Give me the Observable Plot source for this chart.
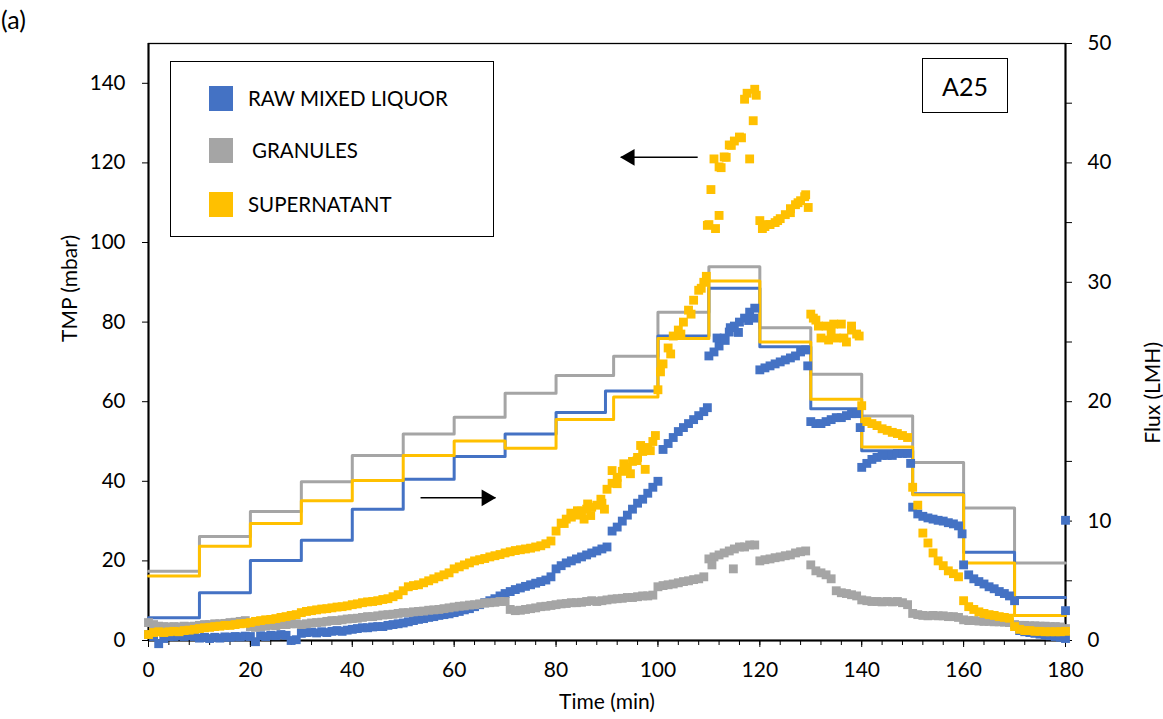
<!DOCTYPE html>
<html>
<head>
<meta charset="utf-8">
<script src="https://cdn.jsdelivr.net/npm/d3@7"></script>
<script src="https://cdn.jsdelivr.net/npm/@observablehq/plot@0.6"></script>
<style>
  html, body { margin: 0; padding: 0; background: #fff; }
  #wrap { position: relative; width: 1163px; height: 719px; font-family: Lato, "Open Sans", sans-serif; color: #000; }
  #panel { position: absolute; left: 1px; top: 4px; font-size: 25px; line-height: 30px; }
  #legend { position: absolute; left: 170px; top: 61px; width: 324px; height: 176px; box-sizing: border-box; border: 1.4px solid #000; background: #fff; }
  .lg-sw { position: absolute; width: 24px; height: 25px; }
  .lg-tx { position: absolute; font-size: 20.5px; line-height: 24px; white-space: nowrap; }
  #tag { position: absolute; left: 922px; top: 58px; width: 86px; height: 55px; box-sizing: border-box; border: 1.6px solid #000; background: #fff; font-size: 25px; display: flex; align-items: center; justify-content: center; }
</style>
</head>
<body>
<div id="wrap">
  <div id="chart"></div>
  <div id="panel">(a)</div>
  <div id="legend"></div>
  <div id="tag">A25</div>
</div>
<script>
// ---------------- data ----------------
const seriesNames = ["RAW MIXED LIQUOR", "GRANULES", "SUPERNATANT"];
const seriesColors = ["#4472C4", "#A5A5A5", "#FFC000"];

// TMP (mbar) sampled once per minute, t = 0 … 180 min
const minutes = d3.range(0, 181);
const rawTMP = [
  1.5, 1.0, -0.8, 0.5, 1.0, 1.0, 1.2, 1.0, 1.2, 1.0,
  0.6, 0.8, 0.5, 0.8, 0.6, 0.9, 0.8, 1.0, 0.9, 1.1,
  1.0, -0.3, 1.2, 1.0, 1.3, 1.2, 1.5, 1.3, 0.0, 0.2,
  1.8, 2.0, 2.1, 1.9, 2.2, 2.0, 2.3, 2.5, 2.3, 2.6,
  2.8, 3.0, 3.2, 3.2, 3.4, 3.5, 3.5, 3.8, 4.0, 4.2,
  4.4, 4.7, 5.0, 5.3, 5.5, 5.8, 6.0, 6.3, 6.5, 6.7,
  7.0, 7.3, 7.7, 8.0, 8.5, 9.0, 9.5, 10.0, 10.5, 11.2,
  11.8, 12.3, 12.8, 13.2, 13.6, 14.0, 14.4, 14.8, 15.2, 16.0,
  18.0, 18.8, 19.5, 20.0, 20.5, 21.0, 21.5, 22.0, 22.5, 23.0,
  23.5, 27.5, 28.5, 30.0, 31.5, 33.0, 34.5, 35.5, 37.0, 38.5,
  40.0, 48.0, 49.5, 51.0, 52.5, 53.5, 54.5, 55.5, 56.5, 57.5,
  71.5, 72.5, 74.0, 76.0, 77.5, 79.0, 80.0, 81.0, 82.5, 83.5,
  68.0, 68.5, 69.0, 69.5, 70.0, 70.5, 71.0, 71.5, 72.5, 73.0,
  55.0, 54.5, 54.5, 55.0, 55.5, 56.0, 56.0, 56.5, 57.0, 57.0,
  43.5, 44.5, 45.5, 46.0, 46.5, 46.5, 46.5, 47.0, 47.0, 47.0,
  33.5, 31.8, 31.2, 30.8, 30.5, 30.2, 30.0, 29.6, 29.3, 28.8,
  19.0, 16.5, 15.5, 14.8, 14.2, 13.5, 13.0, 12.3, 11.8, 11.2,
  10.0, 2.5, 2.2, 2.0, 1.8, 1.6, 1.4, 1.2, 1.0, 0.8,
  0.5
];
const rawExtra = [[109.7, 58.5], [111.6, 76.0], [113.2, 75.4], [114.2, 78.6], [115.8, 77.4], [117.8, 80.4], [118.8, 81.0], [129.4, 69.0], [139.7, 53.5], [149.6, 44.5], [159.7, 26.8], [180, 7.5], [180, 30.2]];

const granTMP = [
  4.5, 4.0, 3.6, 3.5, 3.4, 3.5, 3.4, 3.6, 3.5, 3.6,
  3.8, 4.0, 4.0, 4.2, 4.2, 4.3, 4.5, 4.6, 4.8, 5.0,
  3.5, 3.3, 3.5, 3.6, 3.8, 3.7, 4.0, 4.0, 4.2, 4.2,
  4.0, 4.2, 4.4, 4.5, 4.6, 4.8, 5.0, 5.0, 5.2, 5.4,
  5.5, 5.6, 5.8, 6.0, 6.0, 6.2, 6.4, 6.5, 6.6, 6.8,
  7.0, 7.0, 7.2, 7.3, 7.4, 7.6, 7.7, 7.8, 8.0, 8.2,
  8.4, 8.6, 8.7, 8.9, 9.0, 9.2, 9.4, 9.5, 9.6, 9.8,
  9.8, 7.8, 7.5, 7.6, 7.8, 8.0, 8.2, 8.5, 8.6, 8.8,
  9.0, 9.2, 9.3, 9.5, 9.5, 9.6, 9.8, 10.0, 9.8, 10.0,
  10.2, 10.4, 10.5, 10.6, 10.8, 10.8, 11.0, 11.2, 11.2, 11.4,
  13.5, 13.8, 14.0, 14.2, 14.5, 14.8, 15.0, 15.3, 15.5, 16.0,
  20.5, 21.0, 21.5, 22.0, 22.5, 23.0, 23.5, 23.5, 24.0, 24.0,
  20.0, 20.3, 20.5, 20.8, 21.0, 21.3, 21.5, 22.0, 22.3, 22.5,
  19.0, 17.5, 17.0, 16.5, 15.5, 12.5, 12.0, 11.8, 11.5, 11.2,
  10.2, 10.0, 9.8, 9.8, 9.7, 9.8, 9.7, 9.8, 9.5, 9.0,
  6.8, 6.5, 6.3, 6.2, 6.3, 6.2, 6.2, 6.0, 6.0, 5.8,
  5.2, 5.0, 5.0, 4.9, 4.8, 4.8, 4.7, 4.7, 4.6, 4.5,
  4.0, 3.8, 3.8, 3.7, 3.7, 3.6, 3.6, 3.5, 3.5, 3.4,
  3.0
];
const granExtra = [[114.8, 18.0], [110.6, 19.0]];

const supTMP = [
  1.5, 2.0, 2.2, 2.0, 2.2, 2.3, 2.2, 2.5, 2.6, 2.8,
  3.0, 3.2, 3.3, 3.5, 3.6, 3.8, 3.8, 4.0, 4.2, 4.3,
  4.5, 4.8, 5.0, 5.2, 5.3, 5.5, 5.8, 6.0, 6.3, 6.5,
  7.0, 7.3, 7.5, 7.7, 7.9, 8.0, 8.2, 8.4, 8.5, 8.7,
  9.0, 9.2, 9.5, 9.7, 9.8, 10.0, 10.3, 10.5, 11.0, 11.5,
  12.5, 13.5, 13.8, 14.0, 14.5, 15.0, 15.5, 16.0, 16.5, 17.0,
  18.0, 18.5, 19.0, 19.5, 20.0, 20.3, 20.6, 21.0, 21.3, 21.6,
  22.0, 22.3, 22.6, 22.8, 23.0, 23.2, 23.5, 23.8, 24.3, 25.0,
  27.5, 29.5, 30.5, 31.0, 31.5, 32.5, 33.0, 33.5, 34.0, 34.5,
  38.0, 39.5, 41.0, 42.5, 43.5, 45.0, 46.0, 47.5, 48.5, 50.0,
  63.0, 69.5, 73.5, 76.5, 78.0, 80.0, 83.0, 85.5, 88.0, 90.0,
  104.5, 121.0, 119.0, 121.5, 124.5, 125.5, 126.5, 136.0, 121.0, 138.5,
  105.5, 104.0, 104.5, 105.0, 106.0, 107.0, 108.5, 109.5, 110.5, 112.0,
  82.0, 80.5, 76.0, 79.0, 77.5, 76.0, 79.5, 75.0, 78.0, 77.0,
  59.0, 55.0, 54.5, 54.0, 53.2, 52.8, 52.3, 52.0, 51.5, 51.0,
  38.5, 34.0, 27.0, 24.5, 22.0, 20.0, 18.8, 17.5, 16.8, 16.0,
  10.0, 8.5, 7.8, 7.2, 6.8, 6.5, 6.3, 6.0, 5.8, 5.6,
  3.5, 2.8, 2.5, 2.5, 2.3, 2.3, 2.2, 2.2, 2.2, 2.2,
  2.3
];
const supExtra = [
  [81.6, 29.4], [82.9, 32.0], [84.2, 32.6], [85.5, 30.5], [86.2, 34.3], [86.8, 31.4], [88.8, 35.5], [89.5, 33.0],
  [91.0, 42.7], [92.0, 39.4], [93.3, 44.4], [94.6, 41.9], [95.9, 45.2], [96.6, 49.0], [97.5, 43.0], [98.5, 47.7], [99.5, 51.5],
  [100.5, 67.5], [102.5, 72.0], [104.5, 77.0], [106.5, 82.0], [108.5, 88.5], [109.5, 91.5],
  [109.7, 104.3], [110.4, 113.3], [111.3, 103.5], [112.0, 106.8], [112.4, 118.8], [113.4, 121.4], [114.4, 124.4],
  [116.4, 126.3], [117.5, 137.5], [118.7, 130.6], [119.3, 137.0],
  [120.5, 103.5], [121.5, 104.5], [123.5, 105.5], [126.0, 107.5], [127.5, 110.0], [128.8, 111.5], [129.5, 108.8],
  [130.5, 81.0], [131.5, 79.0], [133.5, 75.5], [134.5, 79.5], [136.5, 76.0], [138.0, 79.0], [139.5, 76.5]
];

// Flux (LMH) step programme: value holds from each time to the next
const rawStepTime  = [0, 10, 20, 30, 40, 50, 60, 70, 80, 89.7, 100, 110, 120, 130, 140, 150, 160, 170, 180];
const rawStepFlux  = [1.9, 4.0, 6.7, 8.4, 11.0, 13.5, 15.4, 17.3, 19.1, 20.9, 25.5, 29.5, 24.6, 19.4, 15.9, 12.3, 7.4, 3.6, 3.6];
const granStepTime = [0, 10, 20, 30, 40, 50, 60, 70, 80, 91.3, 100, 110, 120, 130, 140, 150, 160, 170, 180];
const granStepFlux = [5.8, 8.7, 10.8, 13.3, 15.5, 17.3, 18.7, 20.7, 22.2, 23.8, 27.5, 31.3, 26.2, 22.3, 18.8, 14.9, 11.1, 6.5, 6.5];
const supStepTime  = [0, 10, 20, 30, 40, 50, 60, 70, 80, 91.3, 100, 110, 120, 130, 140, 150, 160, 170, 180];
const supStepFlux  = [5.4, 7.9, 9.8, 11.7, 13.4, 15.5, 16.7, 16.1, 18.5, 20.4, 25.3, 30.1, 25.0, 20.2, 16.2, 12.2, 6.5, 2.1, 2.1];

// arrows (tail time, head time, level in TMP units)
const arrowNotes = [
  {from: 107.8, to: 92.7, level: 121.4},
  {from: 53.4, to: 68.1, level: 35.85}
];

const xTicksMajor = [0, 20, 40, 60, 80, 100, 120, 140, 160, 180];
const yTicksLeft = [0, 20, 40, 60, 80, 100, 120, 140];
const yTicksRight = [0, 10, 20, 30, 40, 50];

// ---------------- build tables ----------------
const TMP_MAX = 150, FLUX_MAX = 50, K = TMP_MAX / FLUX_MAX; // secondary axis factor

function scatterRows(vals, extra, s) {
  return vals.map((v, i) => ({t: minutes[i], v, s}))
    .concat(extra.map(([t, v]) => ({t, v, s})));
}
const scatter = [
  ...scatterRows(rawTMP, rawExtra, seriesNames[0]),
  ...scatterRows(granTMP, granExtra, seriesNames[1]),
  ...scatterRows(supTMP, supExtra, seriesNames[2])
];
function stepRows(ts, fs, s) { return ts.map((t, i) => ({t, flux: fs[i], s})); }
const steps = [
  ...stepRows(granStepTime, granStepFlux, seriesNames[1]),
  ...stepRows(rawStepTime, rawStepFlux, seriesNames[0]),
  ...stepRows(supStepTime, supStepFlux, seriesNames[2])
];

const chart = Plot.plot({
  width: 1163,
  height: 719,
  marginLeft: 148,
  marginRight: 98,
  marginTop: 43,
  marginBottom: 79,
  style: {fontFamily: "Lato, sans-serif", fontSize: "20.5px", color: "#000", background: "#fff", overflow: "visible"},
  x: {domain: [0, 180]},
  y: {domain: [0, TMP_MAX]},
  color: {domain: seriesNames, range: seriesColors},
  marks: [
    Plot.axisX({ticks: d3.range(0, 181, 4), tickSize: 5, tickFormat: () => "", label: null}),
    Plot.axisX({ticks: xTicksMajor, tickSize: 7, tickPadding: 15, fontSize: 21, label: null}),
    Plot.axisY({ticks: yTicksLeft, tickSize: 6, tickPadding: 17, label: null}),
    Plot.axisY({anchor: "right", ticks: yTicksRight.map(d => d * K), tickFormat: d => d / K, tickSize: 6, tickPadding: 16, label: null}),
    Plot.axisY({anchor: "right", ticks: [5, 15, 25, 35, 45].map(d => d * K), tickFormat: () => "", tickSize: 6, label: null}),
    Plot.frame({stroke: "#000", strokeWidth: 1.3}),
    Plot.ruleY([0], {stroke: "#000", strokeWidth: 2}),
    Plot.ruleX([0, 180], {stroke: "#000", strokeWidth: 2}),
    Plot.line(steps, {x: "t", y: d => d.flux * K, z: "s", stroke: "s", curve: "step-after", strokeWidth: 3}),
    Plot.dot(scatter, {x: "t", y: "v", fill: "s", symbol: "square", r: 5}),
    Plot.link(arrowNotes, {x1: "from", x2: "to", y1: "level", y2: "level", stroke: "#000", strokeWidth: 1.5}),
    Plot.dot(arrowNotes.filter(d => d.to < d.from), {x: "to", y: "level", symbol: "triangle", r: 6.2, fill: "#000", rotate: -90, dx: 9}),
    Plot.dot(arrowNotes.filter(d => d.to > d.from), {x: "to", y: "level", symbol: "triangle", r: 6.2, fill: "#000", rotate: 90, dx: -9}),
    Plot.text(["TMP (mbar)"], {frameAnchor: "left", dx: -78, rotate: -90, fontSize: 21}),
    Plot.text(["Flux (LMH)"], {frameAnchor: "right", dx: 88, rotate: -90, fontSize: 21}),
    Plot.text(["Time (min)"], {frameAnchor: "bottom", dy: 68, fontSize: 21})
  ]
});
document.getElementById("chart").appendChild(chart);

// legend
const legend = document.getElementById("legend");
const rowsY = [36, 88, 142];
const textX = [77, 81, 77];
seriesNames.forEach((name, i) => {
  const sw = document.createElement("div");
  sw.className = "lg-sw";
  sw.style.left = "38px";
  sw.style.top = (rowsY[i] - 12.5) + "px";
  sw.style.background = seriesColors[i];
  legend.appendChild(sw);
  const tx = document.createElement("div");
  tx.className = "lg-tx";
  tx.style.left = textX[i] + "px";
  tx.style.top = (rowsY[i] - 12) + "px";
  tx.textContent = name;
  legend.appendChild(tx);
});
</script>
</body>
</html>
